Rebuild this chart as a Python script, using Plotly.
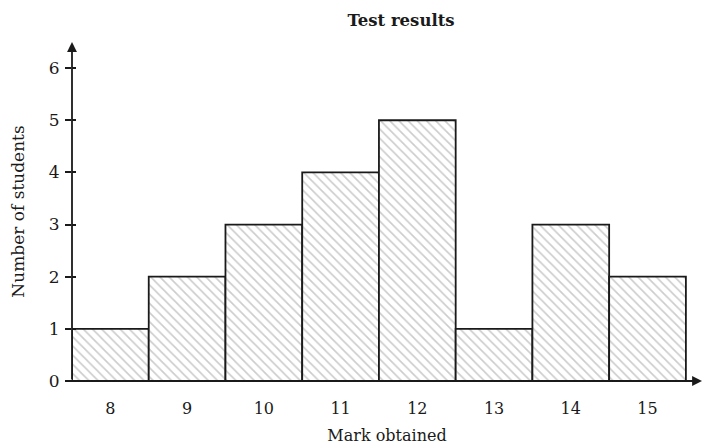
import plotly.graph_objects as go

marks = [8, 9, 10, 11, 12, 13, 14, 15]
students = [1, 2, 3, 4, 5, 1, 3, 2]
y_ticks = [0, 1, 2, 3, 4, 5, 6]
title_text = "Test results"
x_title = "Mark obtained"
y_title = "Number of students"

FONT = "DejaVu Serif"
x_range = [7.5, 15.71]
y_range = [0, 6.5]

fig = go.Figure()
fig.add_trace(go.Bar(
    x=marks, y=students, width=1,
    marker=dict(
        color="white",
        line=dict(color="#1a1a1a", width=1.8),
        pattern=dict(shape="\\", fgcolor="#999999", bgcolor="white", size=6.5, solidity=0.25),
    ),
    showlegend=False, hoverinfo="x+y",
))
# invisible trace on overlay axis so that ticks cross the axis line
fig.add_trace(go.Scatter(x=[marks[0]], y=[0], yaxis="y2", mode="markers",
                         marker=dict(opacity=0), showlegend=False, hoverinfo="skip"))

fig.update_layout(
    width=702, height=445,
    margin=dict(l=72, r=0, t=42, b=64),
    paper_bgcolor="white", plot_bgcolor="white",
    font=dict(family=FONT, color="#1a1a1a", size=16),
    title=dict(text="<b>" + title_text + "</b>", x=401 / 702, xanchor="center",
               y=1 - 20 / 445, yanchor="middle", font=dict(size=16.5, family=FONT)),
    xaxis=dict(range=x_range, tickvals=marks, ticktext=[str(m) for m in marks],
               showgrid=False, zeroline=False, showline=False, ticks="",
               ticklabelstandoff=16, tickfont=dict(size=16), automargin=False,
               title=dict(text=x_title, standoff=12, font=dict(size=16))),
    yaxis=dict(range=y_range, tickvals=y_ticks, showgrid=False, zeroline=False,
               showline=False, ticks="outside", ticklen=6, tickwidth=1.6,
               tickcolor="#1a1a1a", tickfont=dict(size=17), automargin=False,
               ticklabelstandoff=2,
               title=dict(text=y_title, standoff=19, font=dict(size=17))),
    yaxis2=dict(range=y_range, overlaying="y", anchor="x", side="left",
                tickvals=y_ticks, showticklabels=False, ticks="inside", ticklen=4,
                tickwidth=1.6, tickcolor="#1a1a1a", showgrid=False, zeroline=False,
                showline=False, automargin=False),
)

# axis lines with arrowheads
fig.add_annotation(x=x_range[0], y=y_range[1], ax=x_range[0], ay=0, xref="x", yref="y",
                   axref="x", ayref="y", showarrow=True, arrowhead=2, arrowsize=1.1,
                   arrowwidth=1.8, arrowcolor="#1a1a1a", text="")
fig.add_annotation(x=x_range[1], y=0, ax=x_range[0] - 0.08, ay=0, xref="x", yref="y",
                   axref="x", ayref="y", showarrow=True, arrowhead=2, arrowsize=1.1,
                   arrowwidth=1.8, arrowcolor="#1a1a1a", text="")

fig.write_html("out.html", config={"displayModeBar": False},
               post_script="document.body.style.margin='0';")
